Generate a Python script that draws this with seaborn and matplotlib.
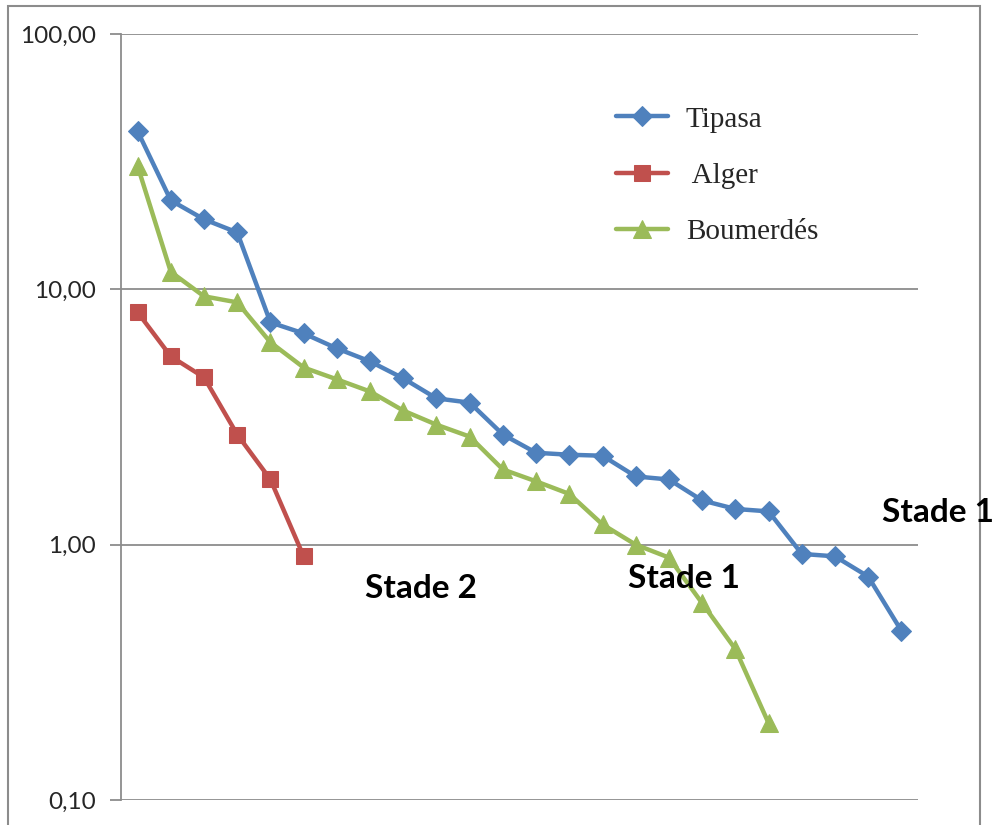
import numpy as np
import pandas as pd
import seaborn as sns
import matplotlib
matplotlib.use("Agg")
import matplotlib.pyplot as plt
from matplotlib.patches import Rectangle
from matplotlib.ticker import FixedLocator, FixedFormatter, NullLocator

tipasa = [41.6, 22.3, 18.8, 16.7, 7.42, 6.72, 5.87, 5.22, 4.48, 3.74, 3.60, 2.70,
          2.29, 2.25, 2.23, 1.85, 1.80, 1.49, 1.38, 1.35, 0.92, 0.90, 0.75, 0.46]
alger = [8.13, 5.46, 4.52, 2.70, 1.80, 0.90]
boumerdes = [30.4, 11.7, 9.39, 8.89, 6.20, 4.94, 4.44, 3.98, 3.35, 2.95, 2.65, 1.97,
             1.77, 1.58, 1.20, 1.00, 0.89, 0.59, 0.39, 0.20]
series_names = ["Tipasa", " Alger", "Boumerdés"]
ytick_values = [0.1, 1, 10, 100]
ytick_labels = ["0,10", "1,00", "10,00", "100,00"]

sns.set_theme(style="white")
plt.rcParams['font.family'] = ['Lato', 'DejaVu Sans']

fig = plt.figure(figsize=(10, 8.25), dpi=100)
ax = fig.add_axes([0.121, 0.0303, 0.797, 0.9285])

colors = ["#4F81BD", "#C0504D", "#9BBB59"]
markers = ["D", "s", "^"]
msizes = [10.5, 11.5, 13.5]
for name, vals, c, m, ms in zip(series_names, [tipasa, alger, boumerdes], colors, markers, msizes):
    df = pd.DataFrame({"x": np.arange(1, len(vals) + 1), "y": vals})
    sns.lineplot(data=df, x="x", y="y", ax=ax, color=c, linewidth=3.2, marker=m,
                 markersize=ms, markeredgecolor=c, label=name)

ax.set_yscale("log")
ax.set_ylim(0.1, 100)
ax.set_xlim(0.5, 24.5)
ax.yaxis.set_major_locator(FixedLocator(ytick_values))
ax.yaxis.set_major_formatter(FixedFormatter(ytick_labels))
ax.yaxis.set_minor_locator(NullLocator())
ax.set_xticks([])
ax.set_xlabel("")
ax.set_ylabel("")
ax.grid(True, axis="y", color="#8c8c8c", linewidth=1.3)
ax.tick_params(axis="y", which="major", length=8, width=1.3, color="#8c8c8c",
               labelsize=17.5, pad=10, left=True)
for s in ["top", "right", "bottom"]:
    ax.spines[s].set_visible(False)
ax.spines["left"].set_color("#8c8c8c")
ax.spines["left"].set_linewidth(1.3)
ax.set_axisbelow(True)

leg = ax.legend(loc="upper left", bbox_to_anchor=(0.588, 0.94), frameon=False,
                prop={"family": "Liberation Serif", "size": 21},
                handlelength=1.8, handletextpad=0.6, labelspacing=1.02)

txt_kw = dict(fontsize=24, fontweight="bold", color="black", ha="left", va="center")
fig.text(0.365, 1 - 589 / 825, "Stade 2", **txt_kw)
fig.text(0.628, 1 - 578 / 825, "Stade 1", **txt_kw)
fig.text(0.882, 1 - 512 / 825, "Stade 1", **txt_kw)

fig.patches.append(Rectangle((0.008, -0.05), 0.972, 1.043, transform=fig.transFigure,
                             fill=False, edgecolor="#8c8c8c", linewidth=1.5))

fig.savefig("out.png", dpi=100)
